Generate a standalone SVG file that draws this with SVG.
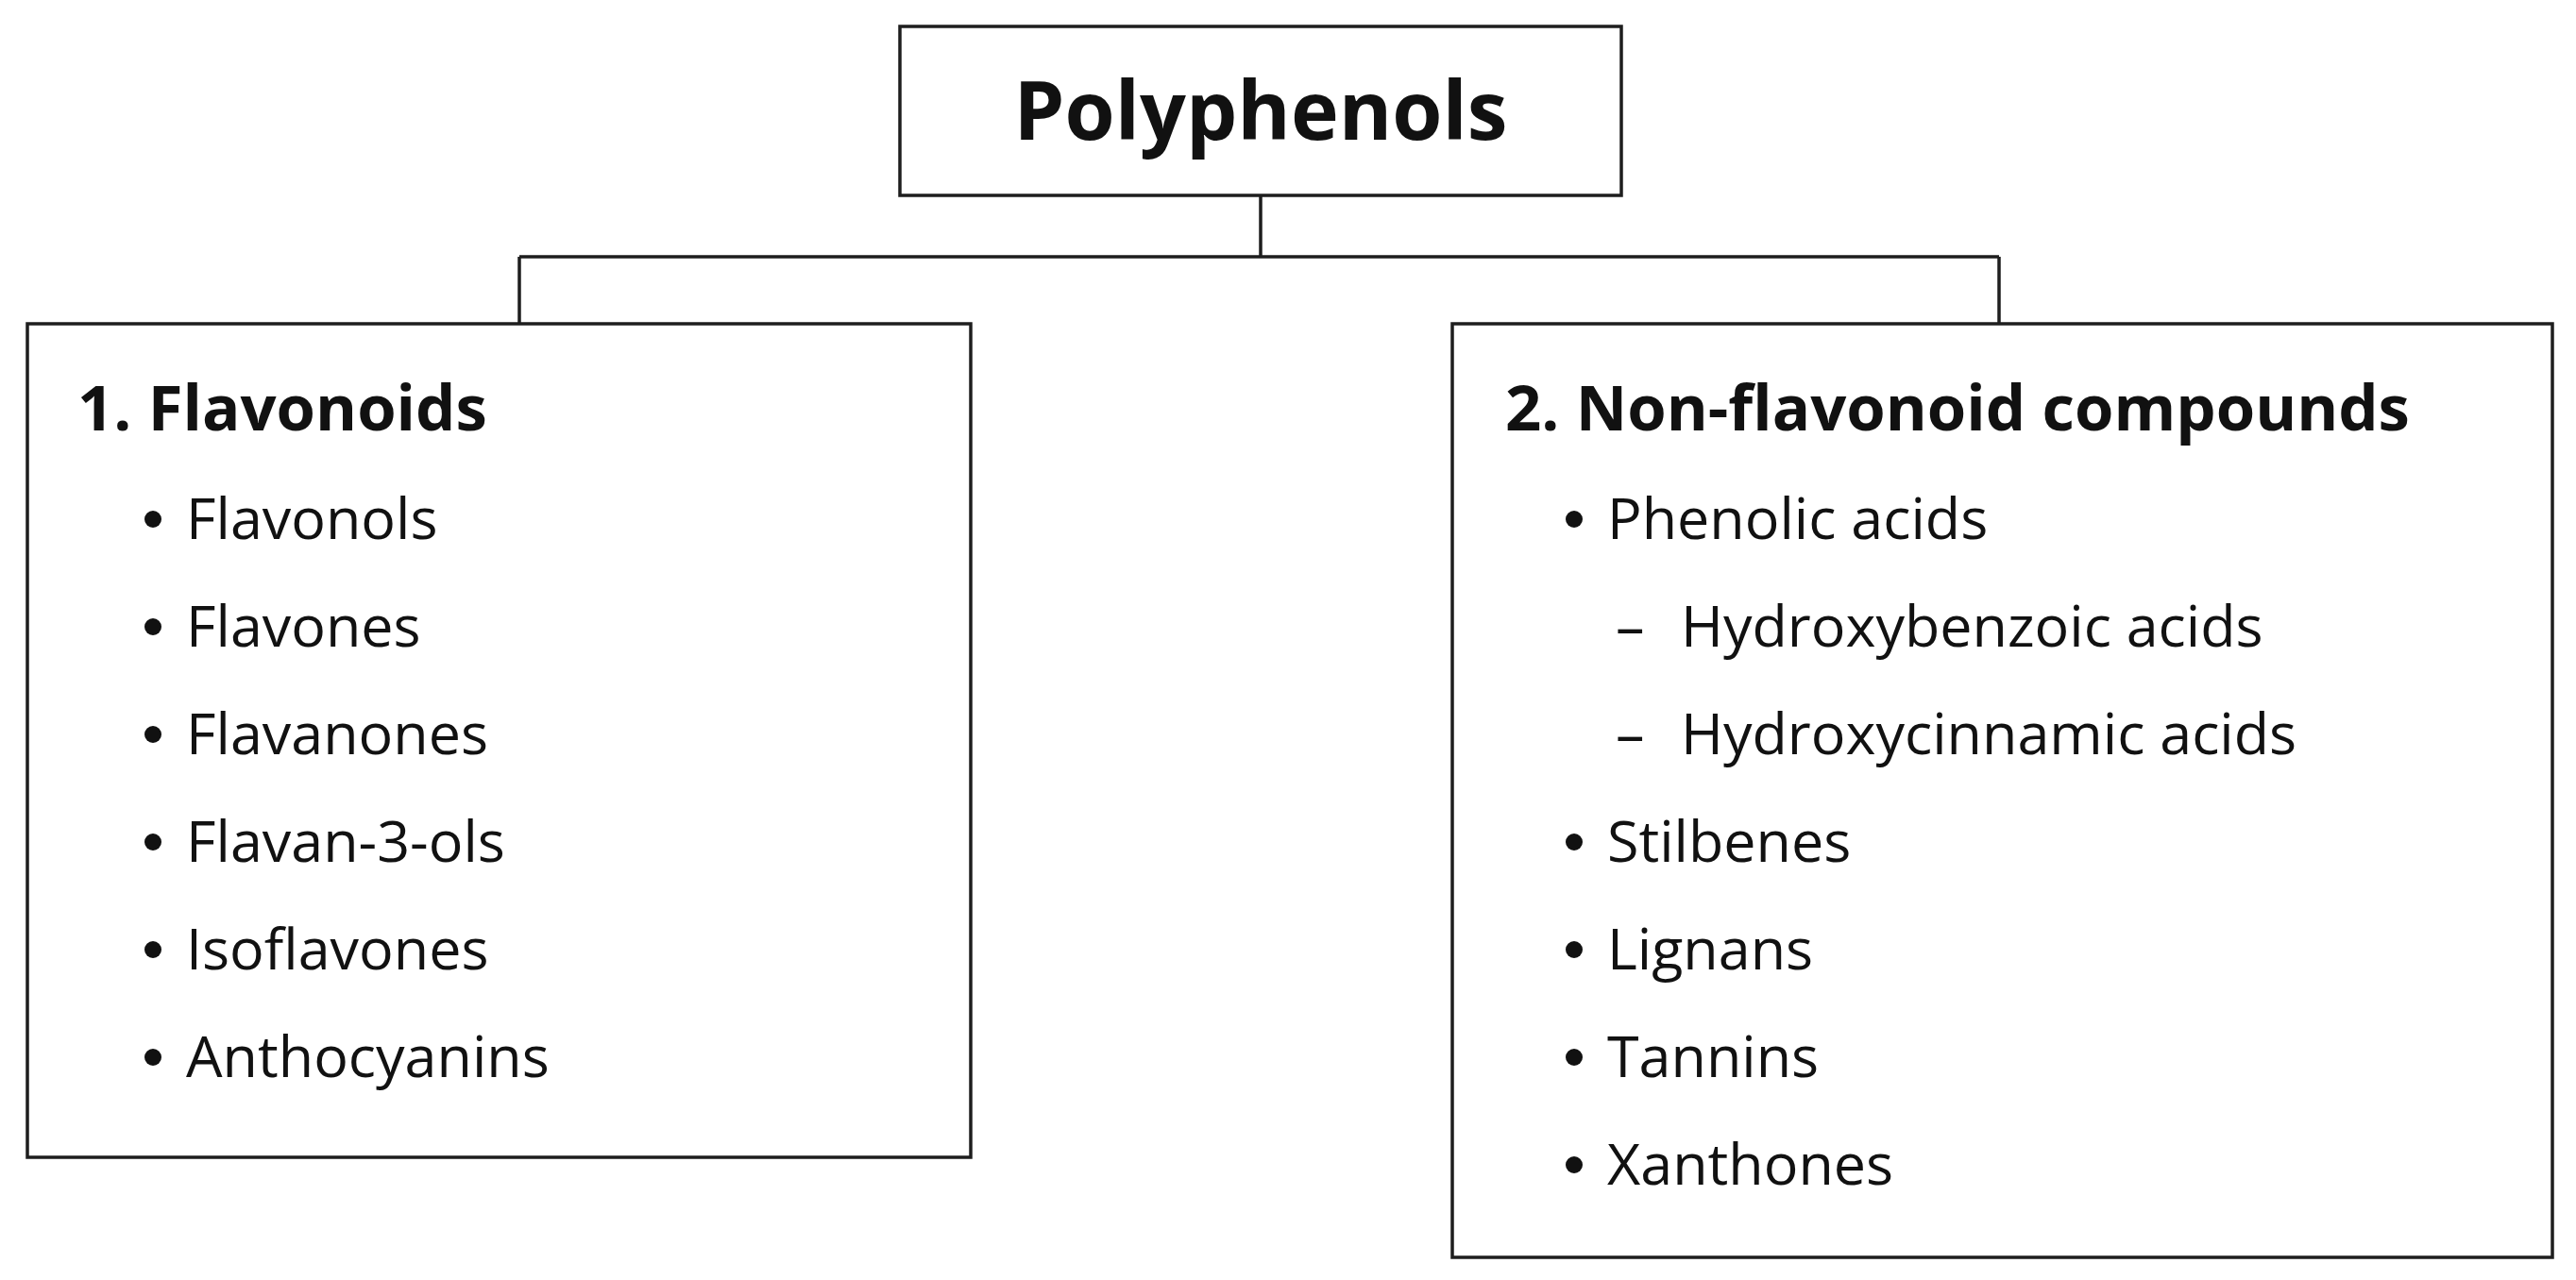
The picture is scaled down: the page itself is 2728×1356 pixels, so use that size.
<svg xmlns="http://www.w3.org/2000/svg" width="2728" height="1356" viewBox="0 0 2728 1356">
<style>
.box{fill:#fff;stroke:#1e1e1e;stroke-width:3.5}
.con{fill:none;stroke:#1e1e1e;stroke-width:3.5}
.root{font-family:"Open Sans","Noto Sans",sans-serif;font-weight:bold;font-size:86px;fill:#111}
.title{font-family:"Open Sans","Noto Sans",sans-serif;font-weight:bold;font-size:67px;fill:#111}
.item{font-family:"Open Sans","Noto Sans",sans-serif;font-size:61px;fill:#111}
.bul{fill:#111}
</style>
<rect width="2728" height="1356" fill="#fff"/>
<g id="connectors">
<path class="con" d="M1335,207 V272 M550,272 H2117 M550,272 V343 M2117,272 V343"/>
</g>
<g id="root">
<rect class="box" x="953" y="28" width="764" height="179"/>
<text class="root" x="1335" y="148" text-anchor="middle">Polyphenols</text>
</g>
<g id="flavonoids">
<rect class="box" x="29" y="343" width="999" height="883"/>
<text class="title" x="82" y="456">1. Flavonoids</text>
<circle class="bul" cx="162" cy="550" r="9"/><text class="item" x="197" y="571">Flavonols</text>
<circle class="bul" cx="162" cy="664" r="9"/><text class="item" x="197" y="685">Flavones</text>
<circle class="bul" cx="162" cy="778" r="9"/><text class="item" x="197" y="799">Flavanones</text>
<circle class="bul" cx="162" cy="892" r="9"/><text class="item" x="197" y="913">Flavan-3-ols</text>
<circle class="bul" cx="162" cy="1006" r="9"/><text class="item" x="197" y="1027">Isoflavones</text>
<circle class="bul" cx="162" cy="1120" r="9"/><text class="item" x="197" y="1141">Anthocyanins</text>
</g>
<g id="non-flavonoids">
<rect class="box" x="1538" y="343" width="1165" height="989"/>
<text class="title" x="1594" y="456">2. Non-flavonoid compounds</text>
<circle class="bul" cx="1667" cy="550" r="9"/><text class="item" x="1702" y="571">Phenolic acids</text>
<text class="item" x="1711" y="685">–<tspan x="1780">Hydroxybenzoic acids</tspan></text>
<text class="item" x="1711" y="799">–<tspan x="1780">Hydroxycinnamic acids</tspan></text>
<circle class="bul" cx="1667" cy="892" r="9"/><text class="item" x="1702" y="913">Stilbenes</text>
<circle class="bul" cx="1667" cy="1006" r="9"/><text class="item" x="1702" y="1027">Lignans</text>
<circle class="bul" cx="1667" cy="1120" r="9"/><text class="item" x="1702" y="1141">Tannins</text>
<circle class="bul" cx="1667" cy="1234" r="9"/><text class="item" x="1702" y="1255">Xanthones</text>
</g>
</svg>
